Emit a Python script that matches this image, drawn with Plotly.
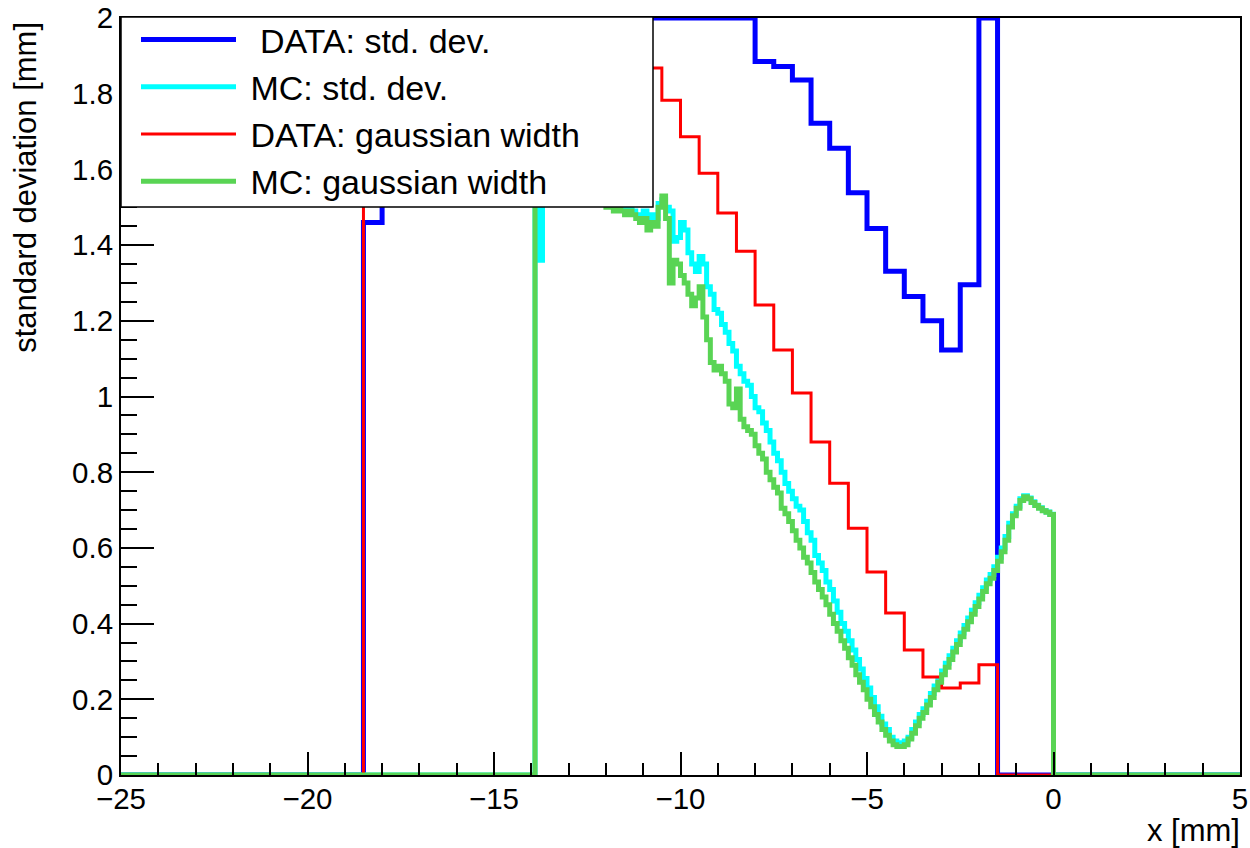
import numpy as np
import plotly.graph_objects as go

# ---------------- data ----------------
X_MIN, X_MAX = -25.0, 5.0
Y_MAX = 2.0

# DATA histograms: 0.5 mm bins, non-empty range starts at -18.5 mm
data_bin_width = 0.5
data_start = -18.5
data_std = [1.46, 2.0, 2.0, 2.0, 2.0, 2.0, 2.0, 2.0, 2.0, 2.0, 2.0,
            2.0, 2.0, 2.0, 2.0, 2.0, 2.0, 2.0, 2.0, 2.0, 2.0,
            1.885, 1.872, 1.836, 1.722, 1.656, 1.538, 1.444, 1.331,
            1.264, 1.200, 1.123, 1.295, 2.0]
data_gaus = [1.62, 1.78, 1.88, 1.93, 1.95, 1.96, 1.97, 1.96, 1.95, 1.94,
             1.93, 1.92, 1.91, 1.90, 1.89,
             1.868, 1.783, 1.686, 1.590, 1.485, 1.384, 1.242, 1.123, 1.009,
             0.880, 0.771, 0.652, 0.536, 0.428, 0.330, 0.259, 0.230, 0.243,
             0.291]

# MC histograms: 0.1 mm bins, non-empty range starts at -13.9 mm
mc_bin_width = 0.1
mc_start = -13.9
mc_std = [2.00, 1.36, 1.66, 1.68, 1.65, 1.66, 1.64, 1.63, 1.64, 1.62,
          1.61, 1.61, 1.59, 1.58, 1.57, 1.56, 1.55, 1.53, 1.52, 1.52,
          1.51, 1.51, 1.50, 1.50, 1.49, 1.50, 1.49, 1.48, 1.48, 1.49,
          1.47, 1.48, 1.47, 1.51, 1.52, 1.50, 1.49, 1.41, 1.42, 1.46,
          1.44, 1.38, 1.35, 1.33, 1.37, 1.35, 1.29, 1.27, 1.23, 1.22,
          1.19, 1.17, 1.14, 1.12, 1.08, 1.06, 1.04, 1.03, 1.00, 0.97,
          0.96, 0.93, 0.91, 0.88, 0.85, 0.83, 0.80, 0.77, 0.75, 0.73,
          0.71, 0.70, 0.67, 0.64, 0.62, 0.58, 0.56, 0.54, 0.51, 0.49,
          0.46, 0.43, 0.40, 0.38, 0.355, 0.33, 0.305, 0.28, 0.255, 0.23,
          0.205, 0.18, 0.155, 0.135, 0.12, 0.10, 0.09, 0.085, 0.085, 0.09,
          0.10, 0.12, 0.14, 0.16, 0.175, 0.195, 0.215, 0.235, 0.255, 0.275,
          0.295, 0.315, 0.335, 0.355, 0.375, 0.395, 0.415, 0.435, 0.455, 0.475,
          0.495, 0.515, 0.53, 0.55, 0.575, 0.60, 0.63, 0.665, 0.69, 0.71,
          0.73, 0.738, 0.732, 0.722, 0.713, 0.706, 0.699, 0.695, 0.689]
mc_gaus = [2.00, 1.66, 1.65, 1.67, 1.64, 1.63, 1.65, 1.62, 1.61, 1.63,
           1.60, 1.59, 1.60, 1.57, 1.58, 1.55, 1.56, 1.52, 1.51, 1.50,
           1.51, 1.49, 1.50, 1.49, 1.48, 1.49, 1.48, 1.47, 1.46, 1.47,
           1.44, 1.46, 1.45, 1.50, 1.53, 1.47, 1.30, 1.36, 1.35, 1.32,
           1.30, 1.27, 1.24, 1.26, 1.29, 1.21, 1.15, 1.09, 1.07, 1.08,
           1.06, 1.04, 0.98, 0.97, 1.02, 0.94, 0.92, 0.91, 0.90, 0.87,
           0.85, 0.835, 0.80, 0.78, 0.76, 0.745, 0.705, 0.69, 0.67, 0.645,
           0.62, 0.60, 0.575, 0.56, 0.535, 0.51, 0.49, 0.47, 0.45, 0.425,
           0.40, 0.38, 0.355, 0.335, 0.31, 0.29, 0.265, 0.245, 0.225, 0.20,
           0.18, 0.16, 0.14, 0.12, 0.105, 0.09, 0.08, 0.075, 0.075, 0.08,
           0.095, 0.11, 0.13, 0.15, 0.165, 0.185, 0.205, 0.225, 0.245, 0.265,
           0.285, 0.305, 0.325, 0.345, 0.365, 0.385, 0.405, 0.425, 0.445, 0.465,
           0.485, 0.505, 0.52, 0.54, 0.565, 0.59, 0.62, 0.655, 0.685, 0.705,
           0.725, 0.735, 0.73, 0.72, 0.712, 0.705, 0.698, 0.694, 0.688]

series = [
    ("  DATA: std. dev.", data_start, data_bin_width, data_std, "#0000ff", 5),
    (" MC: std. dev.", mc_start, mc_bin_width, mc_std, "#00ffff", 5),
    (" DATA: gaussian width", data_start, data_bin_width, data_gaus, "#ff0000", 3),
    (" MC: gaussian width", mc_start, mc_bin_width, mc_gaus, "#59d454", 5),
]


def hist_outline(start, width, vals):
    n_left = int(round((start - X_MIN) / width))
    end = start + width * len(vals)
    n_right = int(round((X_MAX - end) / width))
    full = np.concatenate([np.zeros(n_left), np.asarray(vals, float), np.zeros(n_right)])
    full = np.minimum(full, Y_MAX)
    edges = X_MIN + width * np.arange(len(full) + 1)
    y = np.append(full, full[-1])
    return edges, y


fig = go.Figure()
for name, start, width, vals, color, lw in series:
    x, y = hist_outline(start, width, vals)
    fig.add_trace(go.Scatter(x=x, y=y, mode="lines", name=name,
                             line=dict(color=color, width=lw, shape="hv")))

FONT = "Liberation Sans, Arial, Helvetica, sans-serif"

axis_common = dict(showgrid=False, zeroline=False, showline=True, mirror=True,
                   linecolor="black", linewidth=2, ticks="inside", tickcolor="black",
                   tickwidth=1.5, automargin=False,
                   tickfont=dict(family=FONT, size=29.5, color="black"))

fig.update_xaxes(range=[X_MIN, X_MAX], dtick=5, ticklen=23,
                 minor=dict(dtick=1, ticklen=12, ticks="inside", tickcolor="black", tickwidth=1.5),
                 ticklabelstandoff=-3, **axis_common)
fig.update_yaxes(range=[0, Y_MAX], dtick=0.2, ticklen=33,
                 minor=dict(dtick=0.05, ticklen=16, ticks="inside", tickcolor="black", tickwidth=1.5),
                 ticklabelstandoff=0, **axis_common)

fig.update_layout(
    width=1250, height=848,
    margin=dict(l=121, r=10, t=18, b=73, autoexpand=False),
    paper_bgcolor="white", plot_bgcolor="white",
    font=dict(family=FONT, color="black"),
    showlegend=True,
    legend=dict(x=15 / 1119, y=1.0 + 7 / 757, xanchor="left", yanchor="top",
                bgcolor="rgba(0,0,0,0)", borderwidth=0,
                font=dict(family=FONT, size=34, color="black"),
                itemwidth=95, traceorder="normal"),
    shapes=[dict(type="rect", xref="paper", yref="paper",
                 x0=0, x1=(653 - 121) / 1119, y0=(775 - 207) / 757, y1=1.0013,
                 fillcolor="white", line=dict(color="black", width=1.5), layer="above")],
    annotations=[
        dict(text="standard deviation [mm]", textangle=-90, xref="paper", yref="paper",
             x=(26 - 121) / 1119, y=0.997, xanchor="center", yanchor="top", showarrow=False,
             font=dict(family=FONT, size=31, color="black")),
        dict(text="x [mm]", xref="paper", yref="paper",
             x=(1242 - 121) / 1119, y=(775 - 831) / 757, xanchor="right", yanchor="middle",
             showarrow=False, font=dict(family=FONT, size=31, color="black")),
    ],
)

fig.write_html("out.html", config={"displayModeBar": False},
               post_script="document.body.style.margin='0';document.body.style.overflow='hidden';")
